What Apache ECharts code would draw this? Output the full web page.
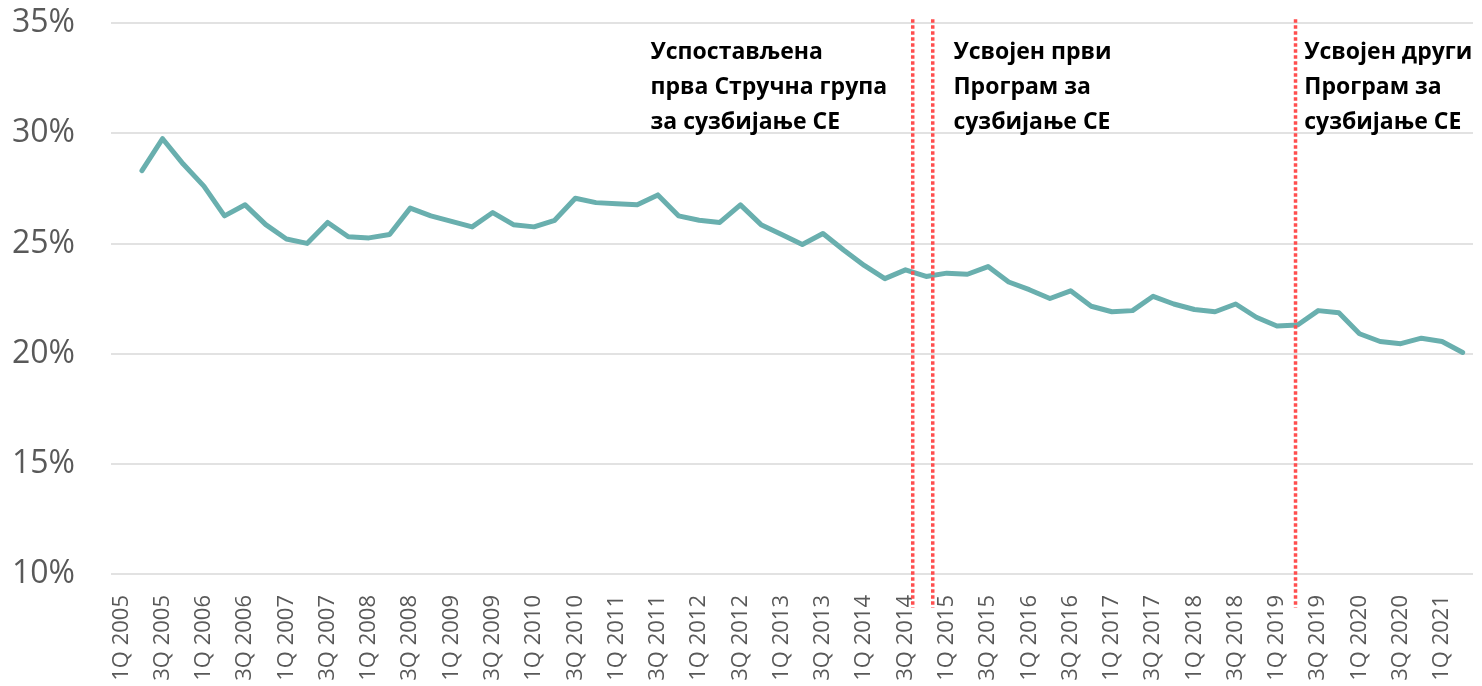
<!DOCTYPE html>
<html>
<head>
<meta charset="utf-8">
<script src="https://cdn.jsdelivr.net/npm/echarts@6/dist/echarts.min.js"></script>
<style>
  html, body { margin: 0; padding: 0; background: #fff; }
  #chart { width: 1482px; height: 686px; }
</style>
</head>
<body>
<div id="chart"></div>
<script>
// quarters, 1Q 2005 .. 2Q 2021
var years = [];
for (var yr = 2005; yr <= 2021; yr++) years.push(yr);
var quarters = [];
years.forEach(function (y) {
  ['1Q', '2Q', '3Q', '4Q'].forEach(function (q) { quarters.push(q + ' ' + y); });
});
quarters = quarters.slice(0, quarters.indexOf('2Q 2021') + 1);

// share in %, first quarter has no value
var share = [null,
  28.3, 29.75, 28.6,
  27.6, 26.25, 26.75, 25.85,
  25.2, 25.0, 25.95, 25.3,
  25.25, 25.4, 26.6, 26.25,
  26.0, 25.75, 26.4, 25.85,
  25.75, 26.05, 27.05, 26.85,
  26.8, 26.75, 27.2, 26.25,
  26.05, 25.95, 26.75, 25.85,
  25.4, 24.95, 25.45, 24.7,
  24.0, 23.4, 23.8, 23.5,
  23.65, 23.6, 23.95, 23.25,
  22.9, 22.5, 22.85, 22.15,
  21.9, 21.95, 22.6, 22.25,
  22.0, 21.9, 22.25, 21.65,
  21.25, 21.3, 21.95, 21.85,
  20.9, 20.55, 20.45, 20.7,
  20.55, 20.05
];

var yTicks = [10, 15, 20, 25, 30, 35];

// events (position counted in quarters from start of 1Q 2005)
var eventAt = [38.85, 39.82, 57.4];
var eventText = [
  'Успостављена\nпрва Стручна група\nза сузбијање СЕ',
  'Усвојен први\nПрограм за\nсузбијање СЕ',
  'Усвојен други\nПрограм за\nсузбијање СЕ'
];
// where each text block starts (same units)
var textAt = [26.12, 40.8, 57.8];

var chart = echarts.init(document.getElementById('chart'));

var font = '"Open Sans", "Noto Sans", sans-serif';

var markPoints = textAt.map(function (x, i) {
  return { coord: [x, 32.09], value: 0, label: { formatter: eventText[i] } };
});

chart.setOption({
  animation: false,
  grid: { left: 111, right: 9, top: 23, bottom: 112, containLabel: false, outerBoundsMode: 'none' },
  xAxis: [{
    type: 'category',
    data: quarters,
    boundaryGap: true,
    axisLine: { show: false },
    axisTick: { show: false },
    axisLabel: {
      interval: 1,
      rotate: 90,
      margin: 21,
      color: '#595959',
      fontSize: 22,
      fontFamily: font
    },
    splitLine: { show: false }
  }, {
    type: 'value',
    min: 0,
    max: quarters.length,
    show: false
  }],
  yAxis: {
    type: 'value',
    min: yTicks[0],
    max: yTicks[yTicks.length - 1],
    interval: 5,
    axisLine: { show: false },
    axisTick: { show: false },
    axisLabel: {
      formatter: '{value}%',
      margin: 36,
      color: '#595959',
      fontSize: 32,
      padding: [4, 0, 0, 0],
      fontFamily: font
    },
    splitLine: { lineStyle: { color: '#d9d9d9', width: 1.5 } }
  },
  series: [{
    type: 'line',
    data: share,
    symbol: 'none',
    connectNulls: false,
    lineStyle: { color: '#69afae', width: 5, join: 'round', cap: 'round' },
    itemStyle: { color: '#69afae' },
    z: 3
  }, {
    // dotted event lines, running a bit past the plot at both ends
    type: 'custom',
    xAxisIndex: 1,
    clip: false,
    silent: true,
    z: 4,
    data: eventAt.map(function (x) { return [x, 35]; }),
    encode: { x: 0, y: 1 },
    renderItem: function (params, api) {
      var top = api.coord([api.value(0), 35.17]);
      var bottom = api.coord([api.value(0), 8.47]);
      return {
        type: 'line',
        shape: { x1: top[0], y1: top[1], x2: bottom[0], y2: bottom[1] },
        style: { stroke: '#ff4f4f', lineWidth: 3.5, lineDash: [3.5, 2.5] }
      };
    }
  }, {
    type: 'line',
    xAxisIndex: 1,
    data: [],
    symbol: 'none',
    markPoint: {
      silent: true,
      symbol: 'rect',
      symbolSize: 1,
      itemStyle: { color: 'rgba(0,0,0,0)' },
      label: {
        show: true,
        position: 'right',
        distance: 0,
        align: 'left',
        verticalAlign: 'middle',
        color: '#000',
        fontSize: 23,
        fontWeight: 'bold',
        lineHeight: 35,
        fontFamily: font
      },
      data: markPoints
    }
  }]
});
</script>
</body>
</html>
